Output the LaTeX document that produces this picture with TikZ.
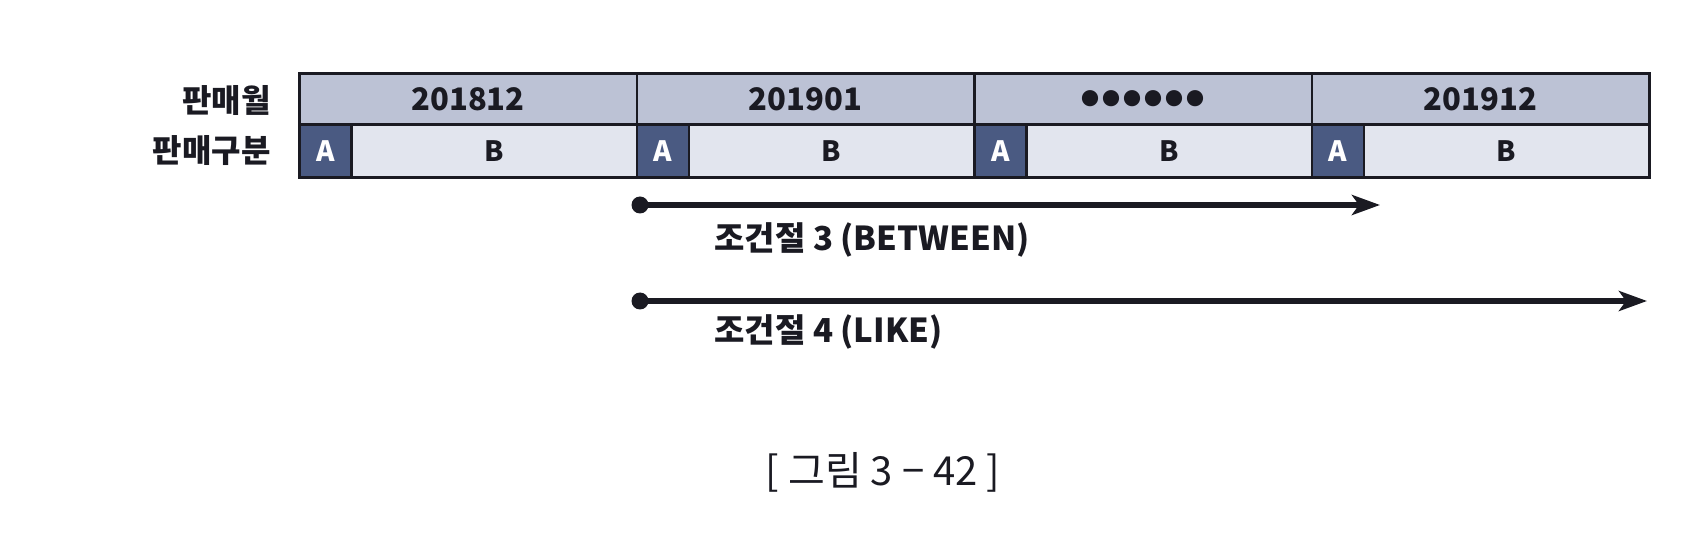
\documentclass[tikz,border=0pt]{standalone}
\usepackage{fontspec}
\setmainfont{Noto Sans CJK KR}
\usetikzlibrary{arrows.meta}
\definecolor{hdr}{HTML}{BCC2D5}
\definecolor{cellb}{HTML}{E2E5EE}
\definecolor{cella}{HTML}{4A5A82}
\definecolor{ink}{HTML}{1A1A22}
\newcommand{\sixdots}{{\fontsize{9}{10}\selectfont ●\kern1.5pt●\kern1.5pt●\kern1.5pt●\kern1.5pt●\kern1.5pt●}}
\tikzset{
  hdrcell/.style={draw=ink, line width=1.3pt, fill=hdr, anchor=north west, minimum width=168.75pt, minimum height=25.5pt, inner sep=0pt, font=\bfseries\fontsize{15.5}{17}\selectfont, text=ink},
  acell/.style={draw=ink, line width=1.3pt, fill=cella, anchor=north west, minimum width=26pt, minimum height=26.5pt, inner sep=0pt, font=\bfseries\fontsize{14}{15}\selectfont, text=white},
  bcell/.style={draw=ink, line width=1.3pt, fill=cellb, anchor=north west, minimum width=142.75pt, minimum height=26.5pt, inner sep=0pt, font=\bfseries\fontsize{14}{15}\selectfont, text=ink},
  rowlabel/.style={anchor=east, inner sep=0pt, font=\bfseries\fontsize{16}{18}\selectfont, text=ink},
  condlabel/.style={anchor=west, inner sep=0pt, font=\bfseries\fontsize{16.5}{18}\selectfont, text=ink},
  rangearrow/.style={line width=2.6pt, draw=ink, -{Stealth[length=14pt,width=10pt,inset=3.5pt]}},
  startdot/.style={circle, fill=ink, inner sep=0pt, minimum size=8.5pt},
}
\begin{document}
\begin{tikzpicture}[x=0.5pt,y=-0.5pt]
\useasboundingbox[fill=white] (0,0) rectangle (1698,534);
\foreach \t [count=\i from 0] in {201812,201901,{\sixdots},201912}{
  \node[hdrcell] (h\i) at ({298+337.5*\i},72) {\t};
  \node[acell] (a\i) at ({298+337.5*\i},123) {A};
  \node[bcell] (b\i) at ({350+337.5*\i},123) {B};
}
\node[rowlabel] (lm) at (271,101) {판매월};
\node[rowlabel] (lk) at (271,151) {판매구분};
\node[startdot] (d1) at (640,205) {};
\coordinate (e1) at (1380,205);
\draw[rangearrow] (d1.center) -- (e1);
\node[condlabel] (c1) at (714,240) {조건절 3 (BETWEEN)};
\node[startdot] (d2) at (640,301) {};
\coordinate (e2) at (1647,301);
\draw[rangearrow] (d2.center) -- (e2);
\node[condlabel] (c2) at (714,332) {조건절 4 (LIKE)};
\node[inner sep=0pt, font=\fontsize{20}{22}\selectfont, text=ink] (cap) at (883,472) {[ 그림 3 − 42 ]};
\end{tikzpicture}
\end{document}
